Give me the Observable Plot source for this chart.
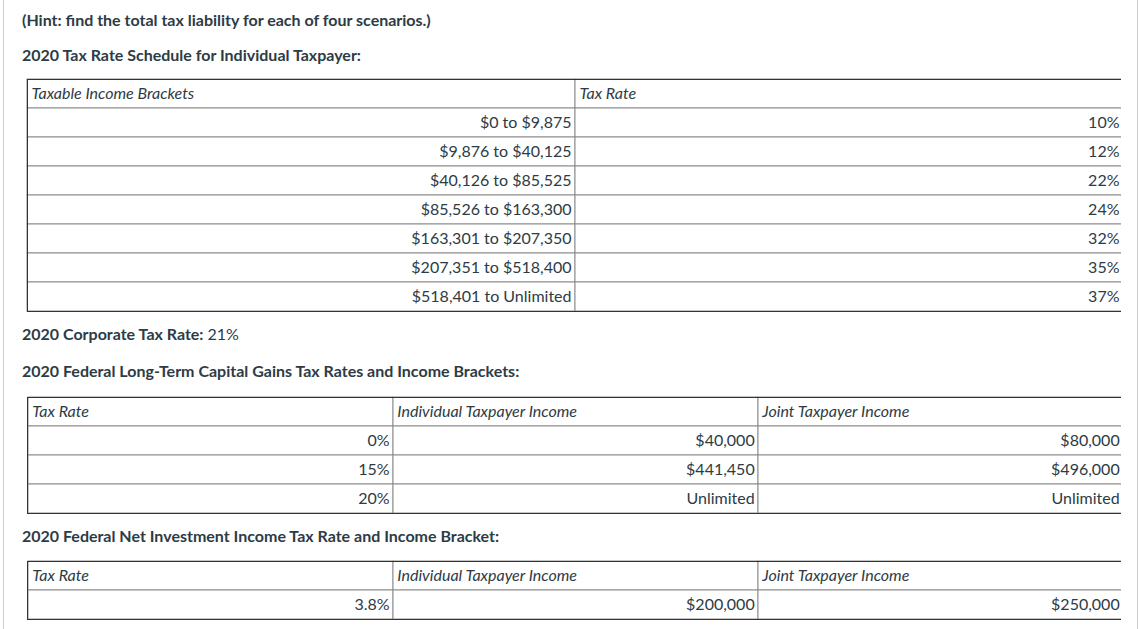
<!DOCTYPE html>
<html><head><meta charset="utf-8">
<script src="https://cdn.jsdelivr.net/npm/d3@7"></script>
<script src="https://cdn.jsdelivr.net/npm/@observablehq/plot@0.6"></script>
<style>
body{margin:0;background:#fff;font-family:Lato, sans-serif;color:#2d3b45;}
#page{position:relative;width:1139px;height:629px;overflow:hidden;background:#fff;}
.vline{position:absolute;top:0;height:629px;width:1px;background:#c7cdd1;}
.h{position:absolute;left:22px;font-size:16px;line-height:20px;font-weight:700;white-space:nowrap;}
.h span{font-weight:400}
.tbl{position:absolute;left:0;width:1121px;overflow:hidden;}
.tbl svg{display:block;max-width:none !important;}
</style></head><body>
<div id="page"></div>
<script>
// ---- data ----
const hintText = "(Hint: find the total tax liability for each of four scenarios.)";
const scheduleTitle = "2020 Tax Rate Schedule for Individual Taxpayer:";
const corporateLabel = "2020 Corporate Tax Rate:";
const corporateRate = "21%";
const capGainsTitle = "2020 Federal Long-Term Capital Gains Tax Rates and Income Brackets:";
const niitTitle = "2020 Federal Net Investment Income Tax Rate and Income Bracket:";

const incomeHeaders = ["Taxable Income Brackets", "Tax Rate"];
const incomeBrackets = ["$0 to $9,875", "$9,876 to $40,125", "$40,126 to $85,525", "$85,526 to $163,300",
  "$163,301 to $207,350", "$207,351 to $518,400", "$518,401 to Unlimited"];
const incomeRates = ["10%", "12%", "22%", "24%", "32%", "35%", "37%"];

const cgHeaders = ["Tax Rate", "Individual Taxpayer Income", "Joint Taxpayer Income"];
const cgRates = ["0%", "15%", "20%"];
const cgIndividual = ["$40,000", "$441,450", "Unlimited"];
const cgJoint = ["$80,000", "$496,000", "Unlimited"];

const niitHeaders = ["Tax Rate", "Individual Taxpayer Income", "Joint Taxpayer Income"];
const niitRates = ["3.8%"];
const niitIndividual = ["$200,000"];
const niitJoint = ["$250,000"];

// ---- layout ----
const page = document.getElementById("page");
function vline(x){const d=document.createElement("div");d.className="vline";d.style.left=x+"px";page.appendChild(d);}
vline(3); vline(1137);
function heading(centerY, html){const d=document.createElement("div");d.className="h";d.style.top=(centerY-10)+"px";d.innerHTML=html;page.appendChild(d);}
function esc(s){return s.replace(/&/g,"&amp;").replace(/</g,"&lt;");}

function table(headers, columns, top) {
  const n = columns[0].length;
  const rows = d3.range(n + 1);
  const cells = [];
  for (const r of rows) for (const c of headers) cells.push({row: r, col: c});
  const headerData = headers.map(h => ({col: h, row: 0, text: h}));
  const body = [];
  columns.forEach((vals, j) => vals.forEach((v, i) => body.push({col: headers[j], row: i + 1, text: v})));
  const ml = 27, tableW = 1096, W = 1139, rowH = 29;
  const bw = tableW / headers.length;
  const chart = Plot.plot({
    width: W, height: rowH * (n + 1) + 2,
    marginLeft: ml, marginRight: W - ml - tableW, marginTop: 1, marginBottom: 1,
    x: {type: "band", domain: headers, padding: 0, axis: null},
    y: {type: "band", domain: rows, padding: 0, axis: null},
    style: {fontFamily: "Lato, sans-serif", fontSize: "16px", background: "transparent", color: "#2d3b45", maxWidth: "none"},
    marks: [
      Plot.cell(cells, {x: "col", y: "row", fill: "white", stroke: "#8c8c8c", inset: 0}),
      Plot.frame({stroke: "#333"}),
      Plot.text(headerData, {x: "col", y: "row", text: "text", textAnchor: "start", dx: -bw / 2 + 4,
        fontStyle: "italic", fontSize: 16, fill: "#2d3b45"}),
      Plot.text(body, {x: "col", y: "row", text: "text", textAnchor: "end", dx: bw / 2 - 4,
        fontSize: 16, fill: "#2d3b45"})
    ]
  });
  const wrap = document.createElement("div");
  wrap.className = "tbl";
  wrap.style.top = (top - 1) + "px";
  wrap.appendChild(chart);
  page.appendChild(wrap);
}

heading(20, esc(hintText));
heading(55, esc(scheduleTitle));
table(incomeHeaders, [incomeBrackets, incomeRates], 79);
heading(334, esc(corporateLabel) + " <span>" + esc(corporateRate) + "</span>");
heading(371, esc(capGainsTitle));
table(cgHeaders, [cgRates, cgIndividual, cgJoint], 397);
heading(536, esc(niitTitle));
table(niitHeaders, [niitRates, niitIndividual, niitJoint], 561);
</script>
</body></html>
